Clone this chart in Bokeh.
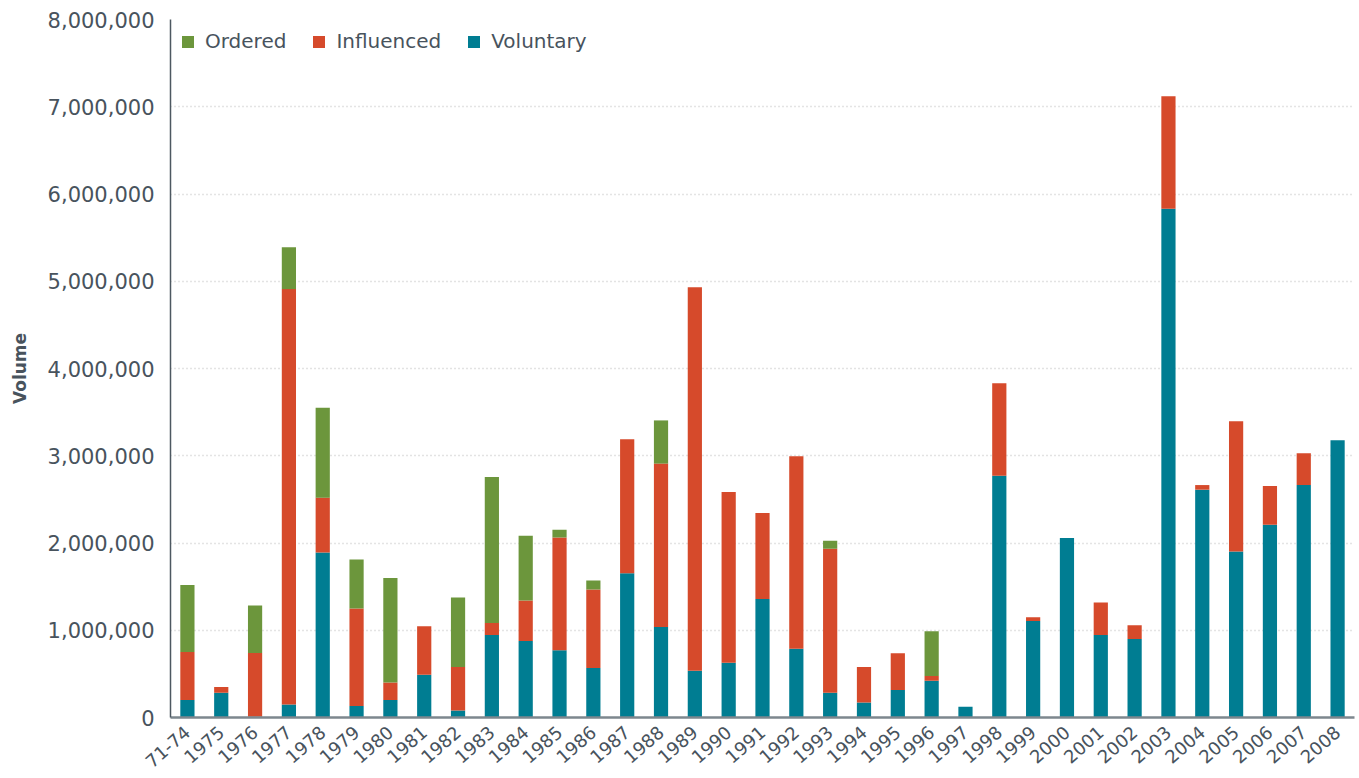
from bokeh.plotting import figure
from bokeh.models import ColumnDataSource, Legend, LegendItem, NumeralTickFormatter, FixedTicker, Range1d
from bokeh.embed import file_html
from bokeh.resources import INLINE

years = ["71-74", "1975", "1976", "1977", "1978", "1979", "1980", "1981", "1982", "1983",
         "1984", "1985", "1986", "1987", "1988", "1989", "1990", "1991", "1992", "1993",
         "1994", "1995", "1996", "1997", "1998", "1999", "2000", "2001", "2002", "2003",
         "2004", "2005", "2006", "2007", "2008"]

voluntary = [200000, 285000, 10000, 148000, 1890000, 133000, 200000, 490000, 80000, 946000,
             878000, 772000, 566000, 1653000, 1038000, 536000, 627000, 1357000, 787000, 285000,
             171000, 315000, 422000, 122000, 2770000, 1106000, 2056000, 946000, 901000, 5830000,
             2611000, 1904000, 2208000, 2664000, 3178000]
influenced = [550000, 65000, 730000, 4762000, 630000, 1117000, 200000, 555000, 500000, 137000,
              464000, 1292000, 901000, 1537000, 1872000, 4394000, 1958000, 988000, 2208000, 1650000,
              407000, 422000, 53000, 0, 1060000, 42000, 0, 373000, 156000, 1290000,
              53000, 1490000, 445000, 365000, 0]
ordered = [770000, 0, 545000, 480000, 1030000, 560000, 1200000, 0, 796000, 1673000,
           741000, 87000, 103000, 0, 495000, 0, 0, 0, 0, 91000,
           0, 0, 513000, 0, 0, 0, 0, 0, 0, 0,
           0, 0, 0, 0, 0]

series = ["voluntary", "influenced", "ordered"]
colors = ["#007d92", "#d64a2b", "#6c963c"]

source = ColumnDataSource(dict(years=years, voluntary=voluntary, influenced=influenced, ordered=ordered))

FONT = "DejaVu Sans"
TXT = "#48535d"

p = figure(x_range=years, y_range=Range1d(0, 8000000), width=1356, height=776,
           output_backend="svg", toolbar_location=None,
           min_border_left=170, min_border_top=19, min_border_bottom=56, min_border_right=2)
p.outline_line_color = None

r = p.vbar_stack(series, x="years", width=0.42, source=source, color=colors, line_color=None)

p.yaxis.ticker = FixedTicker(ticks=[i * 1000000 for i in range(9)])
p.yaxis.formatter = NumeralTickFormatter(format="0,0")
p.yaxis.axis_label = "Volume"
p.yaxis.axis_label_text_font = FONT
p.yaxis.axis_label_text_font_style = "bold"
p.yaxis.axis_label_text_font_size = "17px"
p.yaxis.axis_label_text_color = TXT
p.yaxis.axis_label_standoff = 15
p.yaxis.major_label_text_font = FONT
p.yaxis.major_label_text_font_size = "21px"
p.yaxis.major_label_text_color = TXT
p.yaxis.axis_line_color = "#4d5861"
p.yaxis.axis_line_width = 1.5
p.yaxis.major_tick_line_color = None
p.yaxis.minor_tick_line_color = None
p.yaxis.major_label_standoff = 10

p.xaxis.major_label_orientation = 0.72
p.xaxis.major_label_text_font = FONT
p.xaxis.major_label_text_font_size = "18px"
p.xaxis.major_label_text_color = TXT
p.xaxis.axis_line_color = "#7d878e"
p.xaxis.axis_line_width = 2.5
p.xaxis.major_tick_line_color = None
p.xaxis.major_label_standoff = 6

p.xgrid.grid_line_color = None
p.ygrid.grid_line_color = "#c8c8c8"
p.ygrid.grid_line_dash = "1 3"
p.ygrid.grid_line_width = 1.5

legend = Legend(items=[LegendItem(label="Ordered", renderers=[r[2]]),
                       LegendItem(label="Influenced", renderers=[r[1]]),
                       LegendItem(label="Voluntary", renderers=[r[0]])],
                orientation="horizontal", location="top_left",
                label_text_font=FONT, label_text_font_size="20px", label_text_color=TXT,
                glyph_width=15, glyph_height=15, spacing=25, label_standoff=10,
                border_line_color=None, background_fill_alpha=0, margin=10, padding=4)
p.add_layout(legend)

open("out.html", "w").write(file_html(p, INLINE))
